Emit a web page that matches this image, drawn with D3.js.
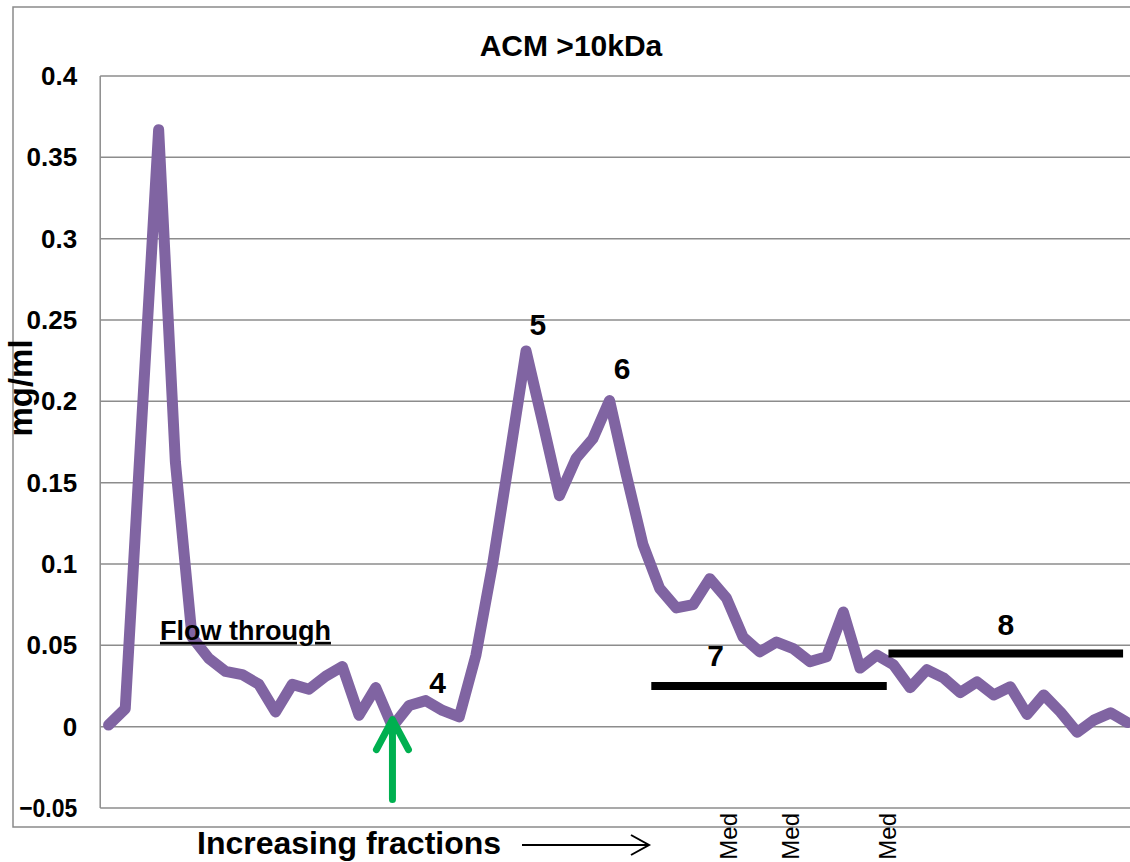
<!DOCTYPE html>
<html>
<head>
<meta charset="utf-8">
<script src="https://cdnjs.cloudflare.com/ajax/libs/d3/7.8.5/d3.min.js"></script>
<style>
  body { margin: 0; background: #fff; }
  svg { display: block; font-family: "Liberation Sans", Arial, sans-serif; }
</style>
</head>
<body>
<div id="chart"></div>
<script>
// protein per fraction (mg/ml)
const concentration = [
  0.001, 0.011, 0.19, 0.367, 0.163, 0.055, 0.042, 0.034, 0.032, 0.026,
  0.009, 0.026, 0.023, 0.031, 0.037, 0.007, 0.024, 0.0, 0.013, 0.016,
  0.010, 0.006, 0.044, 0.100, 0.165, 0.231, 0.187, 0.142, 0.165, 0.177,
  0.2005, 0.155, 0.112, 0.085, 0.073, 0.075, 0.091, 0.079, 0.055, 0.046,
  0.052, 0.048, 0.040, 0.043, 0.0705, 0.036, 0.044, 0.038, 0.024, 0.035,
  0.030, 0.021, 0.0275, 0.0195, 0.0245, 0.0075, 0.0195, 0.009, -0.0035, 0.004,
  0.0085, 0.0025
];

// where the "Med" labels sit along the fraction axis
const medFractions = [37.1, 40.8, 46.6];
const yTicks = [-0.05, 0, 0.05, 0.1, 0.15, 0.2, 0.25, 0.3, 0.35, 0.4];

// peak numbers, placed in fraction / mg/ml units
const peakNames = ["4", "5", "6"];
const peakAt = [19.7, 25.7, 30.75];
const peakLevel = [0.021, 0.2405, 0.2135];

// pooled ranges 7 and 8
const poolNames = ["7", "8"];
const poolFrom = [32.5, 46.7];
const poolTo = [46.6, 60.75];
const poolLevel = [0.025, 0.045];
const poolLabelLevel = [0.0374, 0.0564];

// load point arrow (fraction 17)
const loadFraction = 17;

const W = 1130, H = 862;
const plotLeft = 100.2, plotTop = 76, plotBottom = 808;
const step = 16.7;
const n = concentration.length;

const svg = d3.select("#chart").append("svg")
    .attr("width", W)
    .attr("height", H);

// outer chart frame
svg.append("rect")
    .attr("x", 13).attr("y", 7)
    .attr("width", W + 20).attr("height", 820)
    .attr("fill", "none")
    .attr("stroke", "#8a8a8a")
    .attr("stroke-width", 1.5);

const x = d3.scaleLinear().domain([-0.5, n - 0.5]).range([plotLeft, plotLeft + n * step]);
const y = d3.scaleLinear().domain([-0.05, 0.4]).range([plotBottom, plotTop]);

// gridlines
svg.append("g")
    .selectAll("line")
    .data(yTicks)
    .enter().append("line")
    .attr("x1", plotLeft).attr("x2", W + 10)
    .attr("y1", d => y(d)).attr("y2", d => y(d))
    .attr("stroke", "#8c8c8c")
    .attr("stroke-width", 1.5);

svg.append("line")
    .attr("x1", plotLeft).attr("x2", plotLeft)
    .attr("y1", plotTop).attr("y2", plotBottom)
    .attr("stroke", "#8c8c8c")
    .attr("stroke-width", 1.5);

// y axis labels
const yAxis = svg.append("g")
    .attr("transform", `translate(${plotLeft},0)`)
    .call(d3.axisLeft(y).tickValues(yTicks).tickSize(0).tickPadding(23)
        .tickFormat(d => d3.format("")(+d.toFixed(2))));
yAxis.select(".domain").remove();
yAxis.selectAll("text")
    .attr("dy", "0.33em")
    .style("font-size", "26px")
    .style("font-weight", "bold")
    .attr("fill", "#000");
// Excel squeezed the widest label to fit inside the frame
yAxis.selectAll("text")
    .filter(d => d < 0)
    .attr("textLength", 58)
    .attr("lengthAdjust", "spacingAndGlyphs");

// x axis: only the Med fractions are labelled
const xAxis = svg.append("g")
    .attr("transform", `translate(0,${plotBottom})`)
    .call(d3.axisBottom(x).tickValues(medFractions).tickSize(0).tickFormat(() => "Med"));
xAxis.select(".domain").remove();
xAxis.selectAll("text")
    .attr("transform", "rotate(-90)")
    .attr("x", -5).attr("y", 0)
    .attr("dy", "0.36em")
    .style("text-anchor", "end")
    .style("font-size", "24px")
    .attr("fill", "#000");

// profile line
const line = d3.line()
    .x((d, i) => x(i))
    .y(d => y(d));

svg.append("path")
    .datum(concentration)
    .attr("fill", "none")
    .attr("stroke", "#8064a2")
    .attr("stroke-width", 11)
    .attr("stroke-linejoin", "round")
    .attr("stroke-linecap", "round")
    .attr("d", line);

// pool bars
poolNames.forEach((name, i) => {
    svg.append("line")
        .attr("x1", x(poolFrom[i])).attr("x2", x(poolTo[i]))
        .attr("y1", y(poolLevel[i])).attr("y2", y(poolLevel[i]))
        .attr("stroke", "#000")
        .attr("stroke-width", 8);
    svg.append("text")
        .attr("x", x((poolFrom[i] + poolTo[i]) / 2 + (i === 0 ? -3.2 : 0)))
        .attr("y", y(poolLabelLevel[i]))
        .attr("text-anchor", "middle")
        .style("font-size", "30px")
        .style("font-weight", "bold")
        .text(name);
});

// peak numbers
peakNames.forEach((name, i) => {
    svg.append("text")
        .attr("x", x(peakAt[i]))
        .attr("y", y(peakLevel[i]))
        .attr("text-anchor", "middle")
        .style("font-size", "30px")
        .style("font-weight", "bold")
        .text(name);
});

// flow through label
svg.append("text")
    .attr("x", x(3.08))
    .attr("y", y(0.0534))
    .style("font-size", "27px")
    .style("font-weight", "bold")
    .style("text-decoration", "underline")
    .text("Flow through");

// green arrow at the load point
const ax = x(loadFraction), tipY = y(0.0043), baseY = y(-0.0448);
svg.append("path")
    .attr("d", `M${ax},${baseY}L${ax},${tipY + 3}M${ax - 16},${tipY + 30}L${ax},${tipY}L${ax + 16},${tipY + 30}`)
    .attr("fill", "none")
    .attr("stroke", "#00b050")
    .attr("stroke-width", 7)
    .attr("stroke-linejoin", "round")
    .attr("stroke-linecap", "round");

// title
svg.append("text")
    .attr("x", 571).attr("y", 56)
    .attr("text-anchor", "middle")
    .style("font-size", "30px")
    .style("font-weight", "bold")
    .text("ACM >10kDa");

// y axis title
svg.append("text")
    .attr("transform", "translate(32,388) rotate(-90)")
    .attr("text-anchor", "middle")
    .style("font-size", "33px")
    .style("font-weight", "bold")
    .text("mg/ml");

// x axis title and arrow
svg.append("text")
    .attr("x", 197).attr("y", 854)
    .style("font-size", "32px")
    .style("font-weight", "bold")
    .text("Increasing fractions");

svg.append("path")
    .attr("d", "M522,845L649,845M631,835L649,845L631,855")
    .attr("fill", "none")
    .attr("stroke", "#000")
    .attr("stroke-width", 2);
</script>
</body>
</html>
